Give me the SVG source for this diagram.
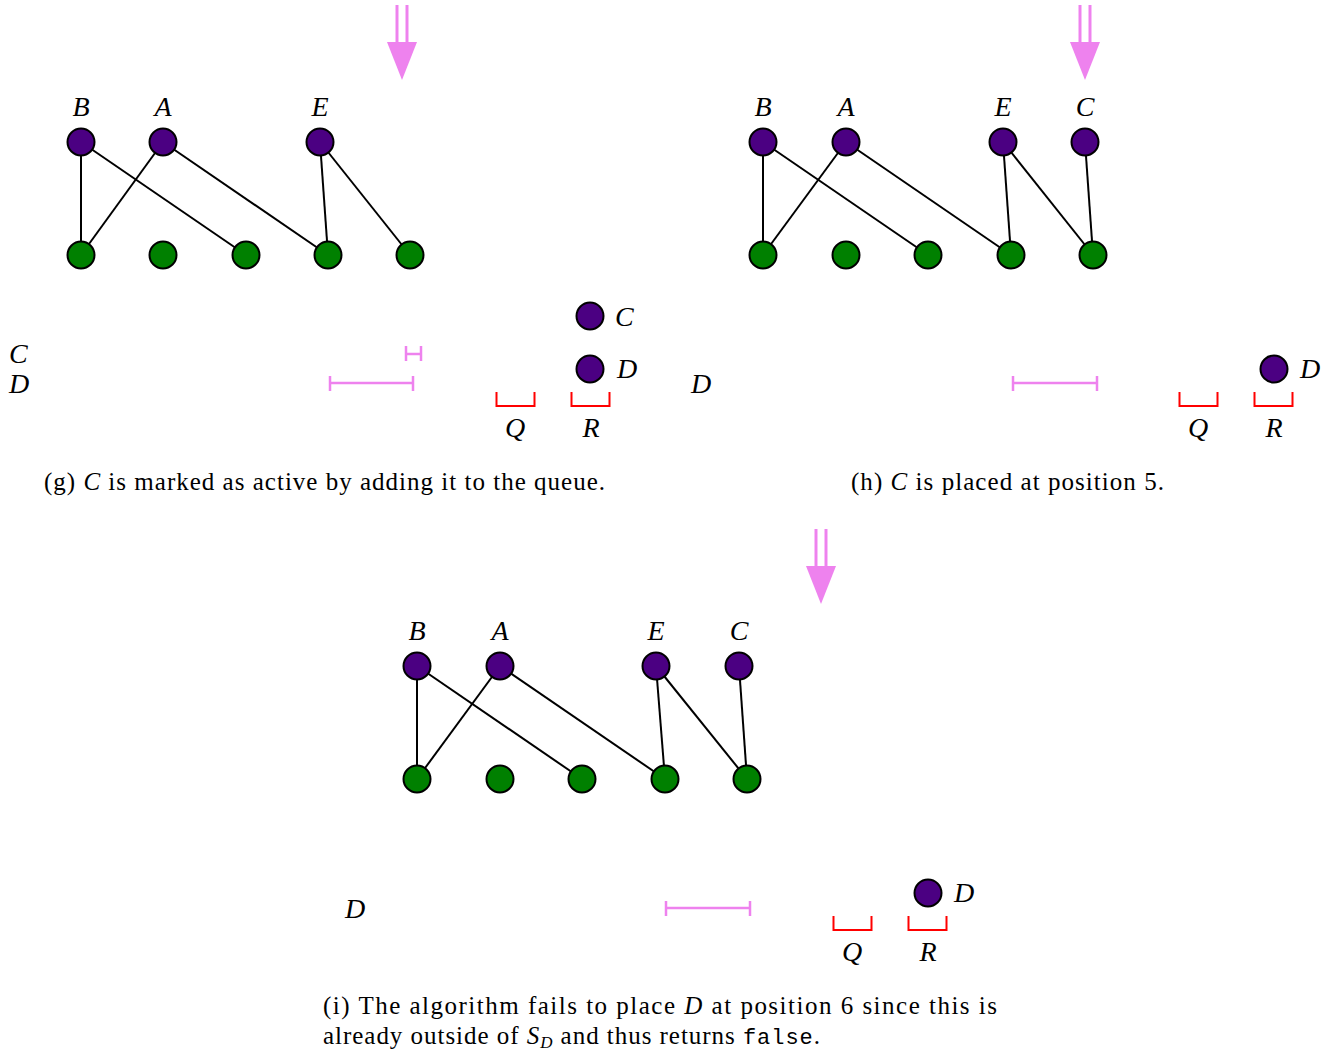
<svg xmlns="http://www.w3.org/2000/svg" width="1340" height="1053" viewBox="0 0 1340 1053">
<defs>
<style>
.top{fill:#4B0082;stroke:#000;stroke-width:2}
.bot{fill:#008000;stroke:#000;stroke-width:2}
.e{stroke:#000;stroke-width:2;fill:none}
.lbl{font-style:italic;font-size:28px;fill:#000}
.cap{font-size:25px;fill:#000}
.it{font-style:italic}
.mono{font-family:Liberation Mono, DejaVu Sans Mono, monospace;font-size:22px}
.br{stroke:#FF0000;stroke-width:2;fill:none}
.iv{stroke:#EE82EE;stroke-width:2.5;fill:none}
.arl{stroke:#EE82EE;stroke-width:3;fill:none}
.arh{fill:#EE82EE;stroke:none}
</style>
<g id="arrow">
<line class="arl" x1="-5" y1="0" x2="-5" y2="38"/>
<line class="arl" x1="5" y1="0" x2="5" y2="38"/>
<polygon class="arh" points="-15,37 15,37 0,75"/>
</g>
<g id="bracket">
<polyline class="br" points="0,0 0,14 38,14 38,0"/>
</g>
</defs>
<g font-family="Liberation Serif, DejaVu Serif, serif">
<!-- Panel g -->
<g id="panel-g">
<use href="#arrow" x="402" y="5"/>
<g id="edges-g">
<line class="e" x1="81" y1="142" x2="81" y2="255"/>
<line class="e" x1="81" y1="142" x2="246" y2="255"/>
<line class="e" x1="163" y1="142" x2="81" y2="255"/>
<line class="e" x1="163" y1="142" x2="328" y2="255"/>
<line class="e" x1="320" y1="142" x2="328" y2="255"/>
<line class="e" x1="320" y1="142" x2="410" y2="255"/>
</g>
<g id="g-B"><circle class="top" cx="81" cy="142" r="13.5"/><text class="lbl" x="81" y="116" text-anchor="middle">B</text></g>
<g id="g-A"><circle class="top" cx="163" cy="142" r="13.5"/><text class="lbl" x="163" y="116" text-anchor="middle">A</text></g>
<g id="g-E"><circle class="top" cx="320" cy="142" r="13.5"/><text class="lbl" x="320" y="116" text-anchor="middle">E</text></g>
<g id="g-b1"><circle class="bot" cx="81" cy="255" r="13.5"/></g>
<g id="g-b2"><circle class="bot" cx="163" cy="255" r="13.5"/></g>
<g id="g-b3"><circle class="bot" cx="246" cy="255" r="13.5"/></g>
<g id="g-b4"><circle class="bot" cx="328" cy="255" r="13.5"/></g>
<g id="g-b5"><circle class="bot" cx="410" cy="255" r="13.5"/></g>
<text class="lbl" x="9" y="363">C</text>
<text class="lbl" x="9" y="393">D</text>
<g id="g-intC"><line class="iv" x1="406" y1="354" x2="421" y2="354"/><line class="iv" x1="406" y1="346" x2="406" y2="361"/><line class="iv" x1="421" y1="346" x2="421" y2="361"/></g>
<g id="g-intD"><line class="iv" x1="330" y1="383" x2="413" y2="383"/><line class="iv" x1="330" y1="376" x2="330" y2="391"/><line class="iv" x1="413" y1="376" x2="413" y2="391"/></g>
<g id="g-C"><circle class="top" cx="590" cy="316" r="13.5"/><text class="lbl" x="615" y="326">C</text></g>
<g id="g-D"><circle class="top" cx="590" cy="369" r="13.5"/><text class="lbl" x="617" y="378">D</text></g>
<use href="#bracket" x="496.5" y="392"/>
<use href="#bracket" x="571.5" y="392"/>
<text class="lbl" x="515" y="437" text-anchor="middle">Q</text>
<text class="lbl" x="591" y="437" text-anchor="middle">R</text>
<text class="cap" x="44" y="490" textLength="561" lengthAdjust="spacing">(g) <tspan class="it">C</tspan> is marked as active by adding it to the queue.</text>
</g>

<!-- Panel h -->
<g id="panel-h">
<use href="#arrow" x="1085" y="5"/>
<g id="edges-h">
<line class="e" x1="763" y1="142" x2="763" y2="255"/>
<line class="e" x1="763" y1="142" x2="928" y2="255"/>
<line class="e" x1="846" y1="142" x2="763" y2="255"/>
<line class="e" x1="846" y1="142" x2="1011" y2="255"/>
<line class="e" x1="1003" y1="142" x2="1011" y2="255"/>
<line class="e" x1="1003" y1="142" x2="1093" y2="255"/>
<line class="e" x1="1085" y1="142" x2="1093" y2="255"/>
</g>
<g id="h-B"><circle class="top" cx="763" cy="142" r="13.5"/><text class="lbl" x="763" y="116" text-anchor="middle">B</text></g>
<g id="h-A"><circle class="top" cx="846" cy="142" r="13.5"/><text class="lbl" x="846" y="116" text-anchor="middle">A</text></g>
<g id="h-E"><circle class="top" cx="1003" cy="142" r="13.5"/><text class="lbl" x="1003" y="116" text-anchor="middle">E</text></g>
<g id="h-C"><circle class="top" cx="1085" cy="142" r="13.5"/><text class="lbl" x="1085" y="116" text-anchor="middle">C</text></g>
<g id="h-b1"><circle class="bot" cx="763" cy="255" r="13.5"/></g>
<g id="h-b2"><circle class="bot" cx="846" cy="255" r="13.5"/></g>
<g id="h-b3"><circle class="bot" cx="928" cy="255" r="13.5"/></g>
<g id="h-b4"><circle class="bot" cx="1011" cy="255" r="13.5"/></g>
<g id="h-b5"><circle class="bot" cx="1093" cy="255" r="13.5"/></g>
<text class="lbl" x="691" y="393">D</text>
<g id="h-intD"><line class="iv" x1="1013" y1="383" x2="1097" y2="383"/><line class="iv" x1="1013" y1="376" x2="1013" y2="391"/><line class="iv" x1="1097" y1="376" x2="1097" y2="391"/></g>
<g id="h-D"><circle class="top" cx="1274" cy="369" r="13.5"/><text class="lbl" x="1300" y="378">D</text></g>
<use href="#bracket" x="1179.5" y="392"/>
<use href="#bracket" x="1254.5" y="392"/>
<text class="lbl" x="1198" y="437" text-anchor="middle">Q</text>
<text class="lbl" x="1274" y="437" text-anchor="middle">R</text>
<text class="cap" x="851" y="490" textLength="313" lengthAdjust="spacing">(h) <tspan class="it">C</tspan> is placed at position 5.</text>
</g>

<!-- Panel i -->
<g id="panel-i">
<use href="#arrow" x="821" y="529"/>
<g id="edges-i">
<line class="e" x1="417" y1="666" x2="417" y2="779"/>
<line class="e" x1="417" y1="666" x2="582" y2="779"/>
<line class="e" x1="500" y1="666" x2="417" y2="779"/>
<line class="e" x1="500" y1="666" x2="665" y2="779"/>
<line class="e" x1="656" y1="666" x2="665" y2="779"/>
<line class="e" x1="656" y1="666" x2="747" y2="779"/>
<line class="e" x1="739" y1="666" x2="747" y2="779"/>
</g>
<g id="i-B"><circle class="top" cx="417" cy="666" r="13.5"/><text class="lbl" x="417" y="640" text-anchor="middle">B</text></g>
<g id="i-A"><circle class="top" cx="500" cy="666" r="13.5"/><text class="lbl" x="500" y="640" text-anchor="middle">A</text></g>
<g id="i-E"><circle class="top" cx="656" cy="666" r="13.5"/><text class="lbl" x="656" y="640" text-anchor="middle">E</text></g>
<g id="i-C"><circle class="top" cx="739" cy="666" r="13.5"/><text class="lbl" x="739" y="640" text-anchor="middle">C</text></g>
<g id="i-b1"><circle class="bot" cx="417" cy="779" r="13.5"/></g>
<g id="i-b2"><circle class="bot" cx="500" cy="779" r="13.5"/></g>
<g id="i-b3"><circle class="bot" cx="582" cy="779" r="13.5"/></g>
<g id="i-b4"><circle class="bot" cx="665" cy="779" r="13.5"/></g>
<g id="i-b5"><circle class="bot" cx="747" cy="779" r="13.5"/></g>
<text class="lbl" x="345" y="918">D</text>
<g id="i-intD"><line class="iv" x1="666" y1="908" x2="750" y2="908"/><line class="iv" x1="666" y1="901" x2="666" y2="916"/><line class="iv" x1="750" y1="901" x2="750" y2="916"/></g>
<g id="i-D"><circle class="top" cx="928" cy="893" r="13.5"/><text class="lbl" x="954" y="902">D</text></g>
<use href="#bracket" x="833.5" y="916"/>
<use href="#bracket" x="908.5" y="916"/>
<text class="lbl" x="852" y="961" text-anchor="middle">Q</text>
<text class="lbl" x="928" y="961" text-anchor="middle">R</text>
<text class="cap" x="323" y="1014" textLength="674" lengthAdjust="spacing">(i) The algorithm fails to place <tspan class="it">D</tspan> at position 6 since this is</text>
<text class="cap" x="323" y="1044" textLength="497" lengthAdjust="spacing">already outside of <tspan class="it">S</tspan><tspan class="it" font-size="17" dy="4">D</tspan><tspan dy="-4"> and thus returns </tspan><tspan class="mono">false</tspan>.</text>
</g>
</g>
</svg>
